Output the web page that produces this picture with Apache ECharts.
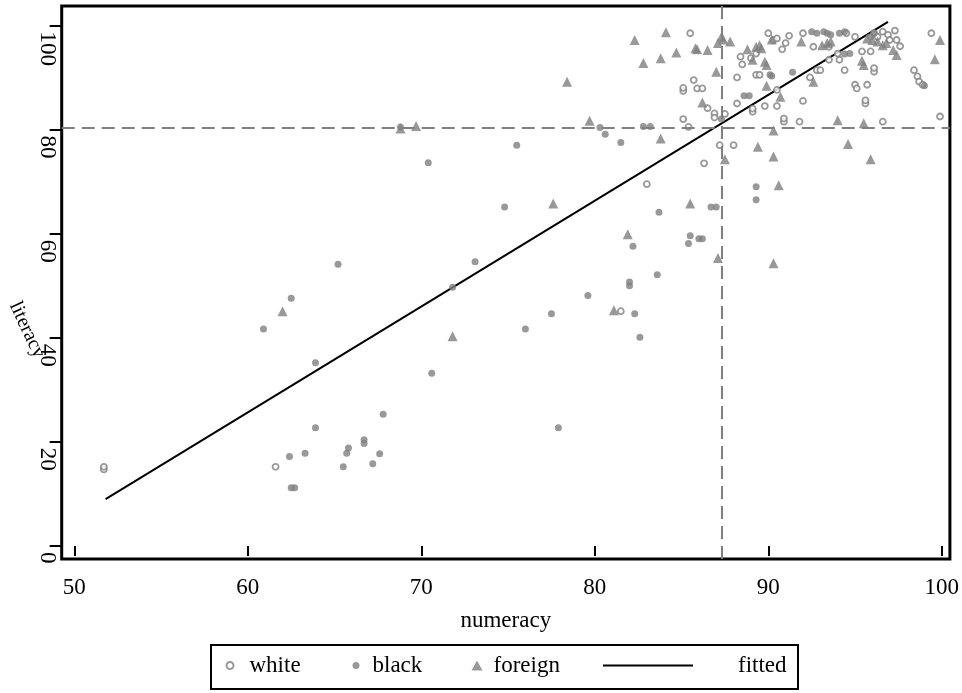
<!DOCTYPE html>
<html>
<head>
<meta charset="utf-8">
<script src="https://cdn.jsdelivr.net/npm/echarts@6/dist/echarts.min.js"></script>
<style>
html, body { margin: 0; padding: 0; background: #fff; }
#chart { width: 962px; height: 693px; }
</style>
</head>
<body>
<div id="chart"></div>
<script>
// numeracy / literacy pairs
var white = [
  [51.7,14.7],[51.7,15.2],[61.6,15.2],[81.5,45.1],[83.0,69.5],[85.5,98.5],
  [90.0,98.5],[90.3,97.2],[90.5,97.5],[90.8,95.4],[91.0,96.6],[91.2,98.0],[92.0,98.5],
  [92.6,95.9],[93.5,95.9],[94.0,94.6],[94.5,98.5],[95.0,97.8],[93.5,93.4],[94.1,93.4],
  [95.4,95.0],[95.9,95.0],[94.4,91.4],[96.1,91.1],[96.1,91.8],[95.0,88.6],[95.1,87.9],[95.7,88.6],
  [95.6,85.0],[95.6,85.6],[96.6,81.5],
  [96.1,98.5],[96.3,97.8],[96.6,98.8],[96.9,98.2],[97.3,99.0],[97.0,97.2],[97.4,97.2],[97.6,96.0],
  [99.4,98.5],[98.4,91.4],[98.6,90.2],[98.7,89.2],[98.9,88.6],[99.9,82.5],
  [88.4,94.0],[88.5,92.5],[89.0,93.7],[89.3,94.6],[88.2,90.0],[89.3,90.5],[89.5,90.5],
  [90.5,87.6],[92.4,90.0],[92.0,85.5],[92.8,91.4],[93.0,91.4],
  [88.2,85.0],[89.1,83.4],[89.1,84.0],[89.8,84.5],[90.5,84.5],[90.9,81.5],[90.9,82.1],[91.8,81.5],
  [87.2,77.0],[88.0,77.0],[86.3,73.5],
  [85.1,87.4],[85.1,88.0],[85.7,89.5],[85.9,87.9],[86.2,87.9],[86.5,84.1],[86.9,83.1],[86.9,82.3],
  [87.5,83.0],[85.1,82.0],[85.4,80.5]
];
var black = [
  [65.2,54.1],[62.5,47.6],[60.9,41.7],[63.9,35.2],[67.8,25.3],[63.9,22.7],[66.7,19.7],[66.7,20.4],
  [65.8,18.8],[65.7,17.8],[63.3,17.8],[62.4,17.2],[67.6,17.7],[67.2,15.8],[65.5,15.2],[62.5,11.2],[62.7,11.2],
  [74.8,65.1],[73.1,54.6],[71.8,49.7],[79.6,48.1],[77.5,44.6],[76.0,41.7],[70.6,33.2],[77.9,22.7],
  [89.3,69.0],[89.3,66.5],[86.7,65.1],[87.0,65.1],[83.7,64.1],[85.5,59.6],[86.0,59.0],[86.2,59.0],
  [85.4,58.1],[82.2,57.6],[83.6,52.1],[82.0,50.0],[82.0,50.7],[82.3,44.6],[82.6,40.1],
  [68.8,80.5],[80.3,80.4],[80.6,79.1],[82.8,80.6],[83.2,80.6],[81.5,77.5],[75.5,77.0],[70.4,73.6],
  [92.5,98.8],[92.8,98.5],[93.2,98.8],[93.4,98.5],[93.6,98.2],[94.1,98.5],[94.4,98.8],[94.4,94.5],
  [94.7,94.6],[95.9,97.8],[96.1,98.5],[99.0,88.4],[90.1,90.5],[90.2,90.3],[91.4,91.0],[88.6,86.5],
  [88.9,86.5],[87.3,82.0]
];
var foreign = [
  [62.0,45.1],[77.6,65.8],[71.8,40.3],[90.6,69.3],[85.5,65.8],[81.9,59.9],[87.1,55.3],[90.3,54.3],[81.1,45.3],
  [82.3,97.2],[84.1,98.7],[82.8,92.8],[83.8,93.7],[84.7,94.8],[78.4,89.2],[68.8,80.2],[69.7,80.7],[79.7,81.7],[83.8,78.3],
  [87.3,97.8],[87.4,97.3],[87.8,96.9],[87.1,96.6],[85.8,95.6],[85.9,95.4],[86.5,95.3],
  [90.2,97.3],[91.9,96.9],[93.1,96.2],[93.6,96.9],[93.4,96.6],[95.4,93.2],[95.5,92.4],
  [94.0,81.8],[95.5,81.2],[94.6,77.2],[95.9,74.3],
  [95.7,97.5],[96.0,97.2],[96.3,96.9],[96.6,96.2],[96.8,96.6],[97.2,95.3],[97.4,94.3],[99.9,97.2],[99.6,93.5],
  [88.8,95.4],[89.5,96.2],[89.3,95.9],[89.6,95.6],[89.1,93.4],[89.8,93.0],[89.9,92.4],[89.9,88.4],[90.7,86.3],[92.6,89.2],
  [90.3,79.8],[89.4,76.7],[90.3,74.8],[87.5,74.3],[87.0,91.1],[86.2,85.2]
];
var fittedX = [51.8, 96.9];
var fittedY = [9.0, 100.7];
var meanNumeracy = 87.3;
var meanLiteracy = 80.4;
var xTicks = [50, 60, 70, 80, 90, 100];
var yTicks = [0, 20, 40, 60, 80, 100];

var myChart = echarts.init(document.getElementById('chart'));
var serif = 'Liberation Serif';
var gray = '#808080';
var fs = 23;

var fitted = fittedX.map(function (x, i) { return [x, fittedY[i]]; });

function legendItem(name, left, w, h, pad, icon) {
  var item = { name: name };
  if (icon) item.icon = icon;
  return {
    data: [item], left: left, top: 654, padding: 0,
    itemWidth: w, itemHeight: h, selectedMode: false,
    textStyle: { fontFamily: serif, fontSize: fs, color: '#000', padding: [0, 0, 0, pad] }
  };
}

var option = {
  animation: false,
  grid: {
    left: 61.7, right: 12, top: 6, bottom: 134,
    show: true, borderColor: '#000', borderWidth: 3
  },
  xAxis: {
    type: 'value', min: 49.27, max: 100.47,
    splitLine: { show: false },
    axisLine: { show: false },
    axisTick: { show: true, customValues: xTicks, length: 10, lineStyle: { color: '#000', width: 2 } },
    axisLabel: { customValues: xTicks, margin: 17, fontFamily: serif, fontSize: fs, color: '#000' },
    name: 'numeracy', nameLocation: 'middle', nameGap: 50,
    nameTextStyle: { fontFamily: serif, fontSize: fs, color: '#000' }
  },
  yAxis: {
    type: 'value', min: -2.5, max: 103.73,
    splitLine: { show: false },
    axisLine: { show: false },
    axisTick: { show: true, customValues: yTicks, length: 12, lineStyle: { color: '#000', width: 2 } },
    axisLabel: {
      customValues: yTicks, margin: 3, rotate: -90, align: 'left', verticalAlign: 'top',
      padding: [0, 0, 0, 6], fontFamily: serif, fontSize: fs, color: '#000'
    }
  },
  legend: [
    legendItem('white', 225.5, 7, 7, 11),
    legendItem('black', 352.5, 7, 7, 8),
    legendItem('foreign', 471.5, 11, 10, 6),
    legendItem('fitted', 603, 90, 2, 40, 'rect')
  ],
  graphic: [
    { type: 'rect', shape: { x: 211, y: 645, width: 587, height: 44 },
      style: { fill: 'none', stroke: '#000', lineWidth: 2 } },
    { type: 'text', x: 27, y: 330, rotation: -65 * Math.PI / 180,
      style: { text: 'literacy', font: '20px "Liberation Serif"', fill: '#000',
               textAlign: 'center', textVerticalAlign: 'middle' } }
  ],
  series: [
    {
      name: 'fitted', type: 'line', data: fitted, symbol: 'none', z: 1,
      lineStyle: { color: '#000', width: 2 }, itemStyle: { color: '#000' },
      markLine: {
        silent: true, symbol: ['none', 'none'], label: { show: false },
        lineStyle: { color: gray, type: [13, 7], width: 2 },
        data: [{ xAxis: meanNumeracy }, { yAxis: meanLiteracy }]
      }
    },
    {
      name: 'white', type: 'scatter', data: white, symbol: 'circle', symbolSize: 6, z: 3,
      itemStyle: { color: '#fff', borderColor: gray, borderWidth: 1.8 }
    },
    {
      name: 'black', type: 'scatter', data: black, symbol: 'circle', symbolSize: 7, z: 3,
      itemStyle: { color: gray }
    },
    {
      name: 'foreign', type: 'scatter', data: foreign, symbol: 'triangle', symbolSize: 10, z: 3,
      itemStyle: { color: gray }
    }
  ]
};
myChart.setOption(option);

window.addEventListener('resize', function () {
  myChart.resize();
});
</script>
</body>
</html>
